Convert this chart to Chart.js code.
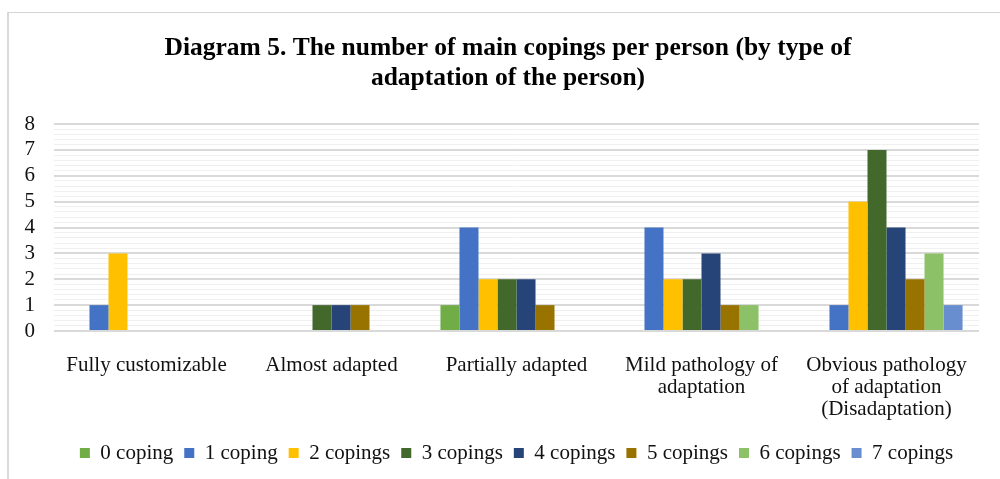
<!DOCTYPE html>
<html>
<head>
<meta charset="utf-8">
<script src="https://cdn.jsdelivr.net/npm/chart.js@4/dist/chart.umd.min.js"></script>
<style>
	body { margin: 0; background: #fff; }
	#wrap { position: relative; width: 1000px; height: 479px; }
	#frame {
		position: absolute; left: 7px; top: 12px; right: -2px; bottom: -2px;
		border-left: 2px solid #d9d9d9; border-top: 1px solid #d4d4d4;
		pointer-events: none;
	}
	canvas { position: absolute; left: 0; top: 0; }
</style>
</head>
<body>
<div id="wrap">
	<canvas id="chart" width="1000" height="479"></canvas>
	<div id="frame"></div>
</div>
<script>
const categories = [
	"Fully customizable",
	"Almost adapted",
	"Partially adapted",
	["Mild pathology of", "adaptation"],
	["Obvious pathology", "of adaptation", "(Disadaptation)"],
];
const seriesNames = [
	"0 coping", "1 coping", "2 copings", "3 copings",
	"4 copings", "5 copings", "6 copings", "7 copings",
];
const coping0 = [0, 0, 1, 0, 0];
const coping1 = [1, 0, 4, 4, 1];
const coping2 = [3, 0, 2, 2, 5];
const coping3 = [0, 1, 2, 2, 7];
const coping4 = [0, 1, 2, 3, 4];
const coping5 = [0, 1, 1, 1, 2];
const coping6 = [0, 0, 0, 1, 3];
const coping7 = [0, 0, 0, 0, 1];
const yTicks = [0, 1, 2, 3, 4, 5, 6, 7, 8];

const seriesValues = [coping0, coping1, coping2, coping3, coping4, coping5, coping6, coping7];
const colors = ["#70ad47", "#4472c4", "#ffc000", "#43682b", "#264478", "#997300", "#8cc168", "#698ed0"];

const serif = "'Liberation Serif', 'Times New Roman', serif";
const isMajor = (v) => yTicks.some((t) => Math.abs(t - v) < 1e-6);

// title sits a bit right of the full-width centre in the original
const shiftTitle = {
	id: "shiftTitle",
	afterLayout(chart) {
		const t = chart.titleBlock;
		if (t) {
			t.left += 6.5;
			t.right += 6.5;
		}
	},
};

const ctx = document.getElementById("chart");
const chart = new Chart(ctx, {
	type: "bar",
	data: {
		labels: categories,
		datasets: seriesNames.map((name, i) => ({
			label: name,
			data: seriesValues[i],
			backgroundColor: colors[i],
			borderWidth: 0,
			barPercentage: 1,
			categoryPercentage: 0.822,
		})),
	},
	options: {
		responsive: false,
		animation: false,
		layout: { padding: { left: 24, right: 21, top: 0, bottom: 5.5 } },
		plugins: {
			title: {
				display: true,
				text: [
					"Diagram 5. The number of main copings per person (by type of",
					"adaptation of the person)",
				],
				color: "#000",
				font: { family: serif, size: 25.5, weight: "bold", lineHeight: 30 / 25.5 },
				padding: { top: 33, bottom: 31 },
			},
			legend: {
				position: "bottom",
				fullSize: false,
				labels: {
					boxWidth: 10,
					boxHeight: 10,
					padding: 11,
					color: "#111",
					font: { family: serif, size: 21 },
				},
			},
			tooltip: { enabled: false },
		},
		scales: {
			x: {
				grid: { display: false },
				border: { display: false },
				ticks: {
					color: "#111",
					font: { family: serif, size: 21, lineHeight: 22 / 21 },
					padding: 15,
					maxRotation: 0,
					autoSkip: false,
				},
				afterFit: (scale) => { scale.height = 100.5; },
			},
			y: {
				min: 0,
				max: 8,
				border: { display: false },
				grid: {
					drawTicks: false,
					color: (c) => (isMajor(c.tick.value) ? "#d9d9d9" : "#f0f0f0"),
					lineWidth: (c) => (isMajor(c.tick.value) ? 2 : 1),
				},
				ticks: {
					stepSize: 0.2,
					autoSkip: false,
					padding: 19,
					color: "#111",
					font: { family: serif, size: 21 },
					callback: (v) => (isMajor(v) ? String(Math.round(v)) : ""),
				},
				afterFit: (scale) => { scale.width = 30; },
			},
		},
	},
	plugins: [shiftTitle],
});
</script>
</body>
</html>
